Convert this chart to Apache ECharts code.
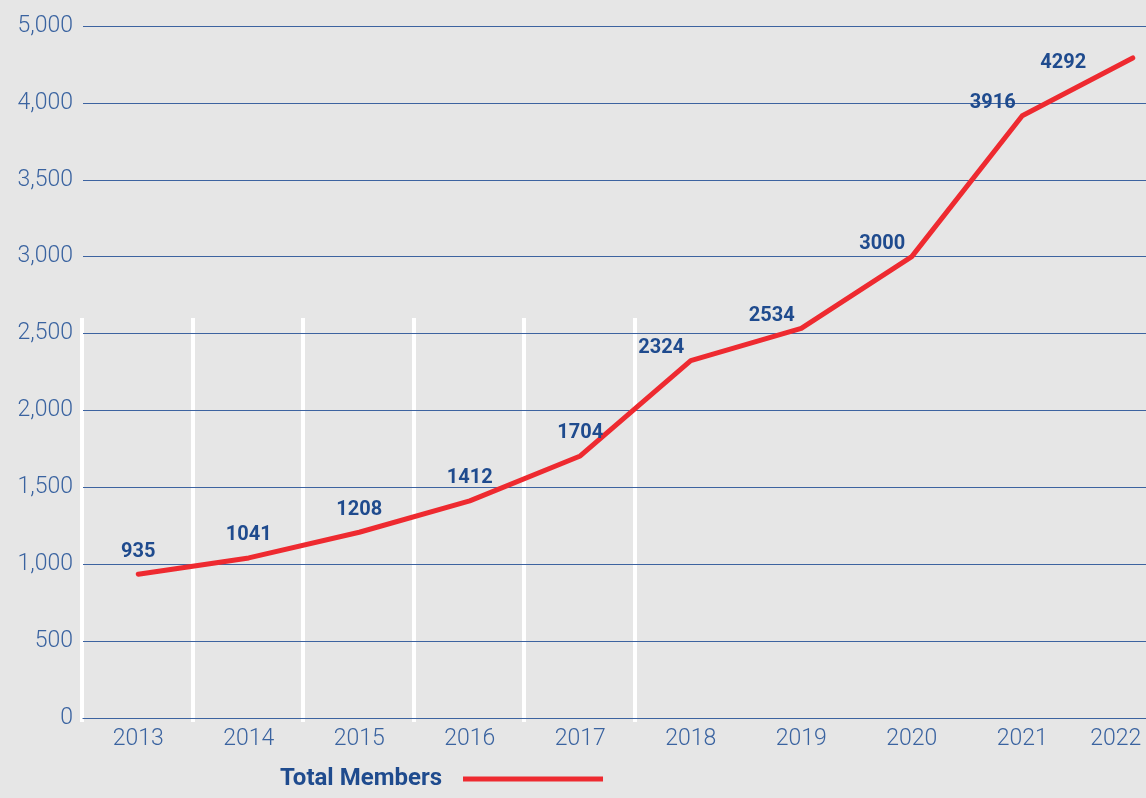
<!DOCTYPE html>
<html>
<head>
<meta charset="utf-8">
<script src="https://cdn.jsdelivr.net/npm/echarts@6/dist/echarts.min.js"></script>
<style>
  html, body { margin: 0; padding: 0; background: #e6e6e6; }
  #chart { width: 1146px; height: 798px; }
</style>
</head>
<body>
<div id="chart"></div>
<script>
// Membership totals per year
const years = ['2013', '2014', '2015', '2016', '2017', '2018', '2019', '2020', '2021', '2022'];
const totalMembers = [935, 1041, 1208, 1412, 1704, 2324, 2534, 3000, 3916, 4292];
const seriesName = 'Total Members';
// Value-axis tick texts, one per 500 step from the bottom
const yTickLabels = ['0', '500', '1,000', '1,500', '2,000', '2,500', '3,000', '3,500', '4,000', '5,000'];

const BLUE_TEXT = '#3a63a0';
const BLUE_LABEL = '#1f4b8e';
const BLUE_LINE = '#3d63a0';
const RED = '#ee2a30';
const FONT = 'Roboto, "Noto Sans", sans-serif';

const lastIdx = years.length - 1;
const Y_STEP = 500;
const Y_MAX = Y_STEP * (yTickLabels.length - 1);

// Plot area: 10 bands about 110px wide; the last band runs past the right edge.
const gridLeft = 83;
const gridWidth = 1105;

// Early years carry their value above the line, later years up and to the left of it.
const points = totalMembers.map((v, i) => {
  const item = { value: v };
  if (i === lastIdx) {
    item.label = { position: [-46, 6], align: 'right', verticalAlign: 'middle' };
  } else if (i >= 5) {
    item.label = { position: [-6, -12], align: 'right', verticalAlign: 'middle' };
  }
  return item;
});

const chart = echarts.init(document.getElementById('chart'), null, { renderer: 'canvas' });

chart.setOption({
  backgroundColor: '#e6e6e6',
  animation: false,
  grid: [
    { left: gridLeft, width: gridWidth, top: 26, bottom: 80, containLabel: false, outerBoundsMode: 'none' },
    // band for the white year dividers on the lower half
    { left: gridLeft - 1, width: gridWidth, top: 318, bottom: 76, containLabel: false, outerBoundsMode: 'none' }
  ],
  legend: {
    data: [seriesName],
    left: 275,
    bottom: 2,
    align: 'right',
    icon: 'rect',
    itemWidth: 140,
    itemHeight: 5,
    itemStyle: { color: RED },
    textStyle: {
      color: BLUE_LABEL,
      fontFamily: FONT,
      fontWeight: 'bold',
      fontSize: 24,
      padding: [0, 16, 0, 0]
    }
  },
  xAxis: [
    {
      type: 'category',
      gridIndex: 0,
      data: years,
      boundaryGap: true,
      axisLine: { show: true, lineStyle: { color: BLUE_LINE, width: 1.2 } },
      axisTick: { show: false },
      splitLine: { show: false },
      axisLabel: {
        interval: 0,
        margin: 10,
        color: BLUE_TEXT,
        fontFamily: FONT,
        fontWeight: 300,
        fontSize: 23,
        formatter: (v, i) => (i === lastIdx ? '{end|' + v + '}' : v),
        rich: {
          end: {
            color: BLUE_TEXT,
            fontFamily: FONT,
            fontWeight: 300,
            fontSize: 23,
            padding: [0, 34, 0, 0]
          }
        }
      },
      z: 3
    },
    {
      type: 'category',
      gridIndex: 1,
      data: years,
      boundaryGap: true,
      axisLine: { show: false },
      axisTick: { show: false },
      axisLabel: { show: false },
      splitLine: {
        show: true,
        interval: (index) => index <= 5,
        lineStyle: { color: '#ffffff', width: 4 }
      },
      z: 1
    }
  ],
  yAxis: [
    {
      type: 'value',
      gridIndex: 0,
      min: 0,
      max: Y_MAX,
      interval: Y_STEP,
      axisLine: { show: false },
      axisTick: { show: false },
      splitLine: { show: true, lineStyle: { color: BLUE_LINE, width: 1.2 } },
      axisLabel: {
        margin: 10,
        color: BLUE_TEXT,
        fontFamily: FONT,
        fontWeight: 300,
        fontSize: 23,
        formatter: (v) => yTickLabels[Math.round(v / Y_STEP)]
      },
      z: 2
    },
    {
      type: 'value',
      gridIndex: 1,
      min: 0,
      max: 1,
      show: false,
      splitLine: { show: false }
    }
  ],
  series: [
    {
      name: seriesName,
      type: 'line',
      xAxisIndex: 0,
      yAxisIndex: 0,
      data: points,
      // tiny symbols so the value labels have an anchor
      showSymbol: true,
      symbol: 'circle',
      symbolSize: 1,
      lineStyle: { color: RED, width: 5, cap: 'round', join: 'round' },
      itemStyle: { color: RED },
      label: {
        show: true,
        position: 'top',
        distance: 12,
        color: BLUE_LABEL,
        fontFamily: FONT,
        fontWeight: 'bold',
        fontSize: 20
      },
      labelLayout: { hideOverlap: false },
      z: 5
    }
  ]
});
</script>
</body>
</html>
